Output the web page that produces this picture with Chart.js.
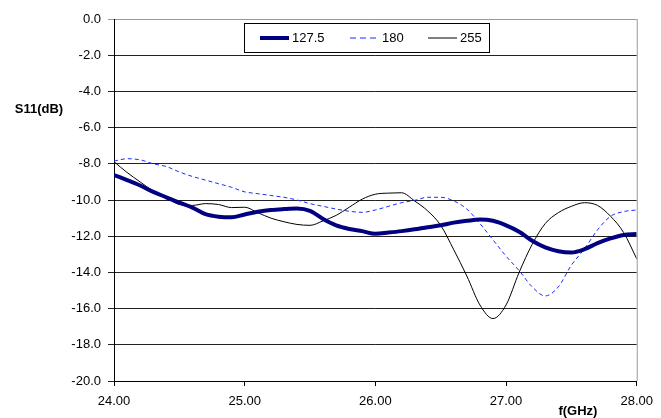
<!DOCTYPE html>
<html lang="en">
  <head>
    <meta charset="UTF-8" />
    <title>S11 vs frequency</title>
    <style>
      body {
        margin: 0;
        background: #fff;
      }
      #wrap {
        width: 661px;
        height: 418px;
      }
    </style>
  </head>
  <body>
    <div id="wrap"><canvas id="s11Chart" width="661" height="418"></canvas></div>
    <script src="https://cdn.jsdelivr.net/npm/chart.js"></script>
    <script>
      // frequency in GHz, 0.1 step
      const freqs = [
        24.0, 24.1, 24.2, 24.3, 24.4, 24.5, 24.6, 24.7, 24.8, 24.9,
        25.0, 25.1, 25.2, 25.3, 25.4, 25.5, 25.6, 25.7, 25.8, 25.9,
        26.0, 26.1, 26.2, 26.3, 26.4, 26.5, 26.6, 26.7, 26.8, 26.9,
        27.0, 27.1, 27.2, 27.3, 27.4, 27.5, 27.6, 27.7, 27.8, 27.9, 28.0,
      ];
      const s11_1275 = [
        -8.62, -8.9, -9.2, -9.55, -9.85, -10.15, -10.42, -10.78, -10.92, -10.95,
        -10.8, -10.65, -10.55, -10.5, -10.47, -10.6, -11.05, -11.4, -11.6, -11.72,
        -11.87, -11.8, -11.72, -11.62, -11.5, -11.4, -11.25, -11.15, -11.08, -11.15,
        -11.4, -11.75, -12.25, -12.62, -12.83, -12.9, -12.72, -12.38, -12.12, -11.93, -11.88,
      ];
      const s11_180 = [
        -7.85, -7.72, -7.78, -8.0, -8.15, -8.45, -8.7, -8.9, -9.1, -9.3,
        -9.55, -9.65, -9.75, -9.85, -10.0, -10.2, -10.35, -10.5, -10.62, -10.68,
        -10.55, -10.35, -10.15, -10.02, -9.85, -9.85, -10.05, -10.5, -11.3, -12.2,
        -13.1, -13.9, -14.8, -15.3, -14.8, -13.6, -12.7, -11.65, -10.9, -10.64, -10.55,
      ];
      const s11_255 = [
        -7.88, -8.48, -9.0, -9.5, -9.85, -10.25, -10.3, -10.2, -10.25, -10.42,
        -10.4, -10.7, -11.0, -11.2, -11.35, -11.4, -11.15, -10.85, -10.4, -9.95,
        -9.68, -9.62, -9.6, -10.05, -10.6, -11.4, -12.75, -14.2, -15.8, -16.55,
        -15.8, -14.0, -12.45, -11.3, -10.7, -10.35, -10.15, -10.3, -10.9, -11.8, -13.25,
      ];
      const seriesNames = ["127.5", "180", "255"];

      const font = "Liberation Sans, Arial, sans-serif";

      function points(values) {
        return freqs.map((f, i) => ({ x: f, y: values[i] }));
      }

      // legend drawn as a boxed row, like the original
      const boxLegend = {
        id: "boxLegend",
        afterDraw(chart) {
          const ctx = chart.ctx;
          const area = chart.chartArea;
          const left = area.left + 130;
          const top = area.top + 4;
          const w = 245;
          const h = 29;
          ctx.save();
          ctx.fillStyle = "#fff";
          ctx.fillRect(left, top, w, h);
          ctx.strokeStyle = "#000";
          ctx.lineWidth = 1;
          ctx.strokeRect(left + 0.5, top + 0.5, w, h);
          const offsets = [16, 106, 184];
          const midY = top + h / 2 + 0.5;
          ctx.font = "13px " + font;
          ctx.textBaseline = "middle";
          ctx.fillStyle = "#000";
          chart.data.datasets.forEach((ds, i) => {
            const x0 = left + offsets[i];
            ctx.beginPath();
            ctx.strokeStyle = ds.borderColor;
            ctx.lineWidth = ds.borderWidth;
            ctx.setLineDash(ds.borderDash ? [6, 4] : []);
            ctx.moveTo(x0, midY);
            ctx.lineTo(x0 + 29, midY);
            ctx.stroke();
            ctx.setLineDash([]);
            ctx.fillText(seriesNames[i], x0 + 32, midY);
          });
          ctx.restore();
        },
      };

      // right border and horizontal axis titles
      const frameAndTitles = {
        id: "frameAndTitles",
        afterDraw(chart) {
          const ctx = chart.ctx;
          const area = chart.chartArea;
          const xs = chart.scales.x;
          const ys = chart.scales.y;
          ctx.save();
          ctx.strokeStyle = "#999";
          ctx.lineWidth = 1;
          ctx.beginPath();
          ctx.moveTo(area.right + 0.5, area.top);
          ctx.lineTo(area.right + 0.5, area.bottom);
          ctx.stroke();
          ctx.fillStyle = "#000";
          ctx.font = "bold 13px " + font;
          ctx.textAlign = "center";
          ctx.textBaseline = "middle";
          ctx.fillText("S11(dB)", 39, ys.getPixelForValue(-5));
          ctx.fillText("f(GHz)", xs.getPixelForValue(27.55), area.bottom + 30);
          ctx.restore();
        },
      };

      new Chart(document.getElementById("s11Chart"), {
        type: "line",
        data: {
          datasets: [
            {
              label: seriesNames[0],
              data: points(s11_1275),
              borderColor: "#000080",
              borderWidth: 4,
              pointRadius: 0,
              cubicInterpolationMode: "monotone",
            },
            {
              label: seriesNames[1],
              data: points(s11_180),
              borderColor: "#1a2cff",
              borderWidth: 1,
              borderDash: [4, 3],
              pointRadius: 0,
              cubicInterpolationMode: "monotone",
            },
            {
              label: seriesNames[2],
              data: points(s11_255),
              borderColor: "#000",
              borderWidth: 1,
              pointRadius: 0,
              cubicInterpolationMode: "monotone",
            },
          ],
        },
        options: {
          responsive: false,
          animation: false,
          layout: { padding: { top: 19, right: 23, left: 0, bottom: 0 } },
          plugins: {
            legend: { display: false },
            tooltip: { enabled: false },
          },
          scales: {
            x: {
              type: "linear",
              min: 24,
              max: 28,
              afterFit(scale) {
                scale.height = 37;
              },
              ticks: {
                stepSize: 1,
                padding: 8,
                color: "#000",
                font: { family: font, size: 13 },
                callback: (v) => v.toFixed(2),
              },
              grid: {
                drawOnChartArea: false,
                drawTicks: true,
                tickLength: 5,
                color: "#000",
              },
              border: { color: "#000" },
            },
            y: {
              min: -20,
              max: 0,
              afterFit(scale) {
                scale.width = 114;
              },
              ticks: {
                stepSize: 2,
                padding: 7,
                color: "#000",
                font: { family: font, size: 13 },
                callback: (v) => v.toFixed(1),
              },
              grid: {
                color: (c) => (c.tick && c.tick.value === 0 ? "#999" : "#222"),
                tickLength: 6,
              },
              border: { color: "#000" },
            },
          },
        },
        plugins: [boxLegend, frameAndTitles],
      });
    </script>
  </body>
</html>
